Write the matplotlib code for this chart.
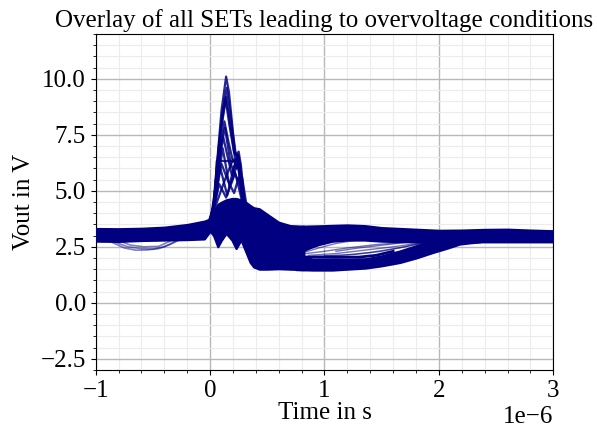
import matplotlib
matplotlib.use("Agg")
import matplotlib.pyplot as plt
from matplotlib.ticker import MultipleLocator, AutoMinorLocator

plt.rcParams['font.family'] = ['Liberation Serif', 'DejaVu Serif']

# ---- data (time in microseconds, voltage in V) ----
# dense mass of traces, before the split into branches
mass_t = [-1.0, -0.8, -0.6, -0.4, -0.2, -0.05, 0.0, 0.03, 0.067, 0.1, 0.14, 0.19, 0.227,
          0.27, 0.31, 0.35, 0.38, 0.43, 0.5, 0.6, 0.7, 0.82]
mass_top = [3.32, 3.31, 3.33, 3.38, 3.5, 3.65, 3.75, 4.05, 4.4, 4.5, 4.6, 4.66, 4.66,
            4.6, 4.5, 4.35, 4.25, 4.2, 3.95, 3.6, 3.45, 3.42]
mass_bot = [2.75, 2.74, 2.78, 2.8, 2.82, 2.85, 3.2, 3.0, 2.5, 2.8, 3.1, 2.8, 2.42,
            2.8, 2.3, 1.8, 1.6, 1.5, 1.5, 1.52, 1.5, 1.48]

# upper branch after the split
upper_t = [0.8, 0.87, 0.95, 1.07, 1.2, 1.35, 1.5, 1.75, 2.0, 2.2, 2.4, 2.6, 2.8, 3.0]
upper_top = [3.42, 3.43, 3.44, 3.46, 3.48, 3.45, 3.36, 3.3, 3.24, 3.25, 3.28, 3.29, 3.25, 3.22]
upper_bot = [2.3, 2.45, 2.6, 2.75, 2.8, 2.8, 2.75, 2.72, 2.72, 2.72, 2.72, 2.72, 2.72, 2.72]

# lower branch after the split
lower_t = [0.75, 0.9, 1.07, 1.2, 1.36, 1.5, 1.66, 1.8, 1.95, 2.08, 2.18, 2.28, 2.36]
lower_top = [2.1, 1.95, 1.95, 1.95, 1.97, 2.1, 2.32, 2.55, 2.8, 2.85, 2.85, 2.85, 2.85]
lower_bot = [1.48, 1.46, 1.46, 1.5, 1.55, 1.65, 1.8, 2.0, 2.25, 2.45, 2.62, 2.68, 2.72]

# thin trace bundle just above the lower branch
thin_t = [0.75, 0.9, 1.1, 1.3, 1.45, 1.6]
thin_v = [2.05, 2.04, 2.03, 2.04, 2.12, 2.3]

# diagonal recovery traces between the branches
diag_traces = [
    ([0.82, 0.95, 1.1, 1.28], [2.25, 2.45, 2.65, 2.8]),
    ([0.84, 1.0, 1.2, 1.45, 1.7, 2.0], [2.2, 2.3, 2.45, 2.6, 2.7, 2.8]),
    ([0.86, 1.1, 1.35, 1.6, 1.85, 2.0], [2.12, 2.2, 2.35, 2.5, 2.68, 2.78]),
    ([0.9, 1.15, 1.4, 1.65, 1.9], [2.08, 2.12, 2.25, 2.45, 2.72]),
    ([1.0, 1.25, 1.5, 1.75, 1.95], [2.1, 2.15, 2.3, 2.55, 2.75]),
    ([1.1, 1.3, 1.55, 1.8], [2.3, 2.45, 2.6, 2.75]),
]

# light pre-event excursion traces
pre_traces = [
    ([-0.88, -0.75, -0.65, -0.55, -0.45, -0.35, -0.28], [2.75, 2.45, 2.35, 2.36, 2.42, 2.6, 2.78]),
    ([-0.85, -0.72, -0.6, -0.5, -0.4, -0.3], [2.75, 2.5, 2.42, 2.4, 2.5, 2.76]),
    ([-0.8, -0.7, -0.58, -0.45, -0.35], [2.78, 2.58, 2.5, 2.52, 2.75]),
]

# overvoltage spike traces
spike_traces = [
    ([-0.02, 0.02, 0.06, 0.1, 0.14, 0.165, 0.2, 0.225, 0.25, 0.27, 0.3, 0.34],
     [3.5, 3.9, 6.2, 8.6, 10.1, 9.4, 7.6, 6.6, 6.75, 6.1, 4.5, 3.9]),
    ([-0.02, 0.03, 0.07, 0.11, 0.145, 0.18, 0.22, 0.25, 0.29, 0.33],
     [3.4, 4.2, 6.6, 8.6, 9.6, 8.3, 6.6, 6.5, 4.6, 4.0]),
    ([-0.02, 0.03, 0.07, 0.1, 0.135, 0.17, 0.21, 0.245, 0.28, 0.32],
     [3.5, 4.3, 6.5, 8.0, 9.1, 7.9, 6.7, 6.6, 4.9, 4.1]),
    ([0.0, 0.04, 0.08, 0.125, 0.16, 0.2, 0.24, 0.28, 0.32],
     [3.6, 4.6, 6.6, 8.1, 7.2, 6.3, 6.4, 4.8, 4.0]),
    ([0.0, 0.04, 0.08, 0.115, 0.15, 0.19, 0.24, 0.27, 0.31],
     [3.6, 4.4, 6.3, 7.4, 6.6, 5.7, 6.6, 5.2, 4.1]),
    ([0.0, 0.04, 0.058, 0.213, 0.245, 0.28, 0.31],
     [3.6, 4.4, 6.33, 6.33, 6.45, 4.8, 4.2]),
    ([0.0, 0.05, 0.11, 0.17, 0.24, 0.3],
     [3.7, 4.8, 6.9, 5.2, 6.2, 4.3]),
    ([0.0, 0.05, 0.09, 0.15, 0.2, 0.245, 0.28, 0.32],
     [3.7, 4.7, 6.0, 4.8, 5.9, 6.6, 5.0, 4.2]),
    ([0.02, 0.06, 0.13, 0.2, 0.25, 0.3],
     [3.9, 4.5, 5.5, 6.4, 6.0, 4.5]),
    ([0.02, 0.08, 0.14, 0.22, 0.29],
     [3.9, 5.3, 4.7, 5.8, 4.3]),
    ([0.0, 0.05, 0.09, 0.13, 0.18, 0.24, 0.28, 0.32],
     [3.6, 4.8, 6.9, 7.8, 6.2, 5.5, 5.6, 4.3]),
    ([-0.01, 0.03, 0.08, 0.14, 0.18, 0.23, 0.26, 0.3],
     [3.5, 4.3, 7.2, 9.2, 7.8, 6.0, 6.3, 4.6]),
    ([0.0, 0.05, 0.1, 0.16, 0.21, 0.25, 0.29],
     [3.6, 5.2, 6.2, 5.4, 4.9, 5.6, 4.3]),
]

x_ticks = [-1, 0, 1, 2, 3]
title_text = "Overlay of all SETs leading to overvoltage conditions"
x_label = "Time in s"
y_label = "Vout in V"

# ---- plotting ----
US = 1e-6
color = "#000080"
FS = 18

fig = plt.figure(figsize=(5.97, 4.28), dpi=100)
ax = fig.add_axes([0.1603, 0.1355, 0.7665, 0.785])


def scale(ts):
    return [t * US for t in ts]


ax.fill_between(scale(mass_t), mass_bot, mass_top, color=color, lw=1.5, zorder=3)
ax.fill_between(scale(upper_t), upper_bot, upper_top, color=color, lw=1.5, zorder=3)
ax.fill_between(scale(lower_t), lower_bot, lower_top, color=color, lw=1.5, zorder=3)
ax.plot(scale(thin_t), thin_v, color=color, lw=2.0, zorder=3)

for ts, vs in diag_traces:
    ax.plot(scale(ts), vs, color=color, lw=1.0, alpha=0.55, zorder=2.5)
for ts, vs in pre_traces:
    ax.plot(scale(ts), vs, color=color, lw=1.2, alpha=0.5, zorder=2.5)
for ts, vs in spike_traces:
    ax.plot(scale(ts), vs, color=color, lw=1.6, alpha=0.85, zorder=3)

ax.set_xlim(-1 * US, 3 * US)
ax.set_ylim(-3, 12)
ax.set_xticks([t * US for t in x_ticks])
ax.xaxis.set_minor_locator(AutoMinorLocator(5))
ax.yaxis.set_major_locator(MultipleLocator(2.5))
ax.yaxis.set_minor_locator(AutoMinorLocator(5))

ax.grid(which='major', color='#b8b8b8', lw=1.0, zorder=0)
ax.grid(which='minor', color='#ececec', lw=0.8, zorder=0)
ax.set_axisbelow(True)

ax.tick_params(labelsize=FS)
ax.xaxis.get_offset_text().set_fontsize(FS)
ax.set_title(title_text, fontsize=FS, pad=5)
ax.set_xlabel(x_label, fontsize=FS, labelpad=0)
ax.set_ylabel(y_label, fontsize=FS)

fig.savefig("out.png", dpi=100)
